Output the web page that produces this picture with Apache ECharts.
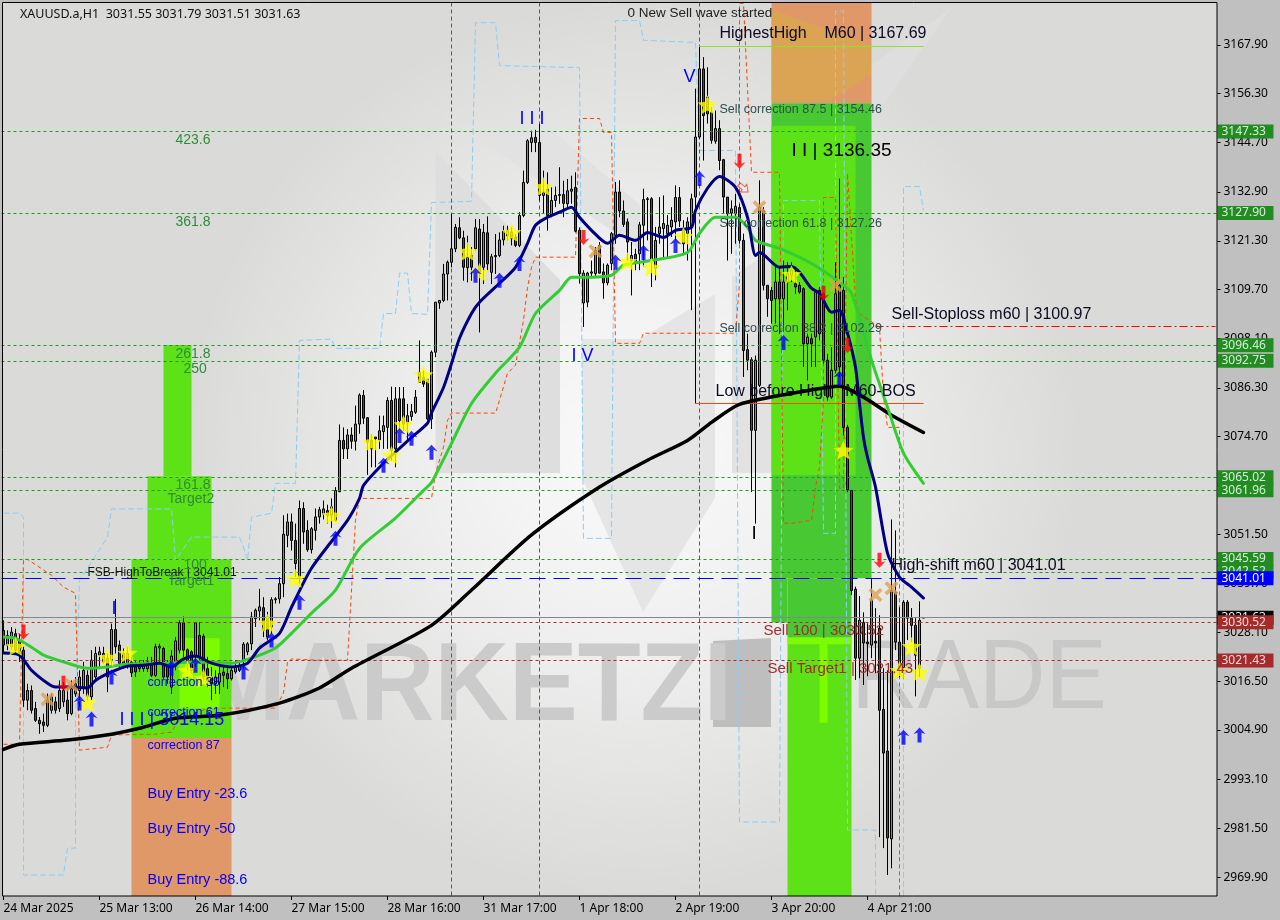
<!DOCTYPE html>
<html>
<head>
<meta charset="utf-8">
<style>html,body{margin:0;padding:0;background:#c0c0c0}#c{width:1280px;height:920px}</style>
<script src="https://cdn.jsdelivr.net/npm/echarts@6/dist/echarts.min.js"></script>
</head>
<body>
<div id="c"></div>
<script>
// ---------- values ----------
const tickLabels = ['24 Mar 2025','25 Mar 13:00','26 Mar 14:00','27 Mar 15:00','28 Mar 16:00','31 Mar 17:00','1 Apr 18:00','2 Apr 19:00','3 Apr 20:00','4 Apr 21:00'];
const priceTicks = [3167.9,3156.3,3144.7,3132.9,3121.3,3109.7,3098.1,3086.3,3074.7,3063.1,3051.5,3039.7,3028.1,3016.5,3004.9,2993.1,2981.5,2969.9];
const ohlcLast = [3031.55,3031.79,3031.51,3031.63];
// each row: open, close, low, high
const candles = [
[3028.6,3025.1,3023.1,3031.0],[3025.1,3027.4,3023.9,3028.6],[3024.7,3028.2,3023.9,3029.4],[3027.8,3023.9,3023.1,3029.0],[3026.2,3023.1,3021.1,3027.8],
[3023.9,3012.0,3010.4,3024.7],[3012.0,3014.3,3009.6,3015.9],[3014.3,3009.6,3008.8,3015.5],[3010.0,3007.2,3006.8,3011.6],[3007.2,3006.4,3004.0,3008.0],
[3006.8,3006.0,3004.4,3008.8],[3006.0,3012.0,3005.6,3013.6],[3009.6,3012.8,3008.8,3013.6],[3011.6,3009.6,3008.8,3012.8],[3010.0,3014.3,3009.2,3016.7],
[3011.6,3014.3,3010.4,3016.3],[3012.0,3008.8,3007.2,3015.1],[3008.8,3014.7,3008.4,3016.7],[3013.5,3015.9,3012.8,3017.5],[3014.3,3017.5,3010.4,3019.1],
[3015.1,3019.1,3013.5,3021.1],[3017.9,3012.8,3012.0,3019.1],[3012.8,3021.5,3012.0,3023.9],[3017.5,3023.1,3016.7,3024.7],[3022.7,3023.5,3019.9,3024.7],
[3023.1,3021.1,3020.7,3024.7],[3021.9,3017.5,3013.9,3023.1],[3021.5,3028.8,3019.9,3030.2],[3028.8,3024.7,3023.1,3036.1],[3025.1,3020.7,3019.5,3026.2],
[3023.1,3020.7,3019.5,3024.3],[3020.7,3023.1,3019.5,3024.7],[3021.1,3018.5,3017.5,3022.3],[3019.9,3018.7,3017.5,3021.5],[3020.3,3019.5,3018.7,3021.5],
[3019.5,3020.3,3018.7,3021.5],[3019.5,3021.1,3018.7,3022.3],[3020.3,3017.9,3017.5,3022.3],[3017.9,3024.7,3017.5,3025.4],[3024.4,3024.8,3021.1,3025.4],
[3024.3,3017.5,3017.1,3024.7],[3020.3,3017.5,3015.9,3021.5],[3015.1,3022.5,3013.5,3023.9],[3020.3,3026.1,3019.1,3027.0],[3023.9,3030.4,3023.1,3031.0],
[3030.4,3023.9,3022.3,3031.9],[3024.0,3020.7,3019.1,3024.3],[3023.5,3019.1,3018.3,3023.9],[3022.3,3030.4,3019.9,3030.6],[3027.4,3022.3,3021.5,3030.6],
[3027.2,3017.5,3016.7,3027.8],[3019.5,3016.7,3015.1,3022.3],[3017.5,3015.9,3012.0,3019.9],[3015.9,3017.5,3013.5,3019.1],[3016.3,3018.3,3013.5,3019.9],
[3018.7,3017.9,3015.1,3020.3],[3018.3,3017.1,3014.7,3020.3],[3017.1,3019.1,3016.7,3019.9],[3018.7,3019.9,3018.3,3021.5],[3019.1,3020.3,3018.7,3021.5],
[3021.5,3025.3,3019.5,3025.8],[3023.5,3025.4,3022.7,3025.8],[3025.4,3031.8,3023.9,3033.0],[3031.4,3033.4,3029.4,3033.8],[3033.2,3034.2,3031.0,3038.5],
[3034.0,3028.6,3027.0,3036.5],[3031.8,3027.0,3026.2,3033.0],[3029.4,3035.9,3027.8,3036.5],[3035.9,3036.1,3035.0,3036.5],[3036.1,3039.7,3035.0,3041.3],
[3039.7,3051.5,3036.5,3056.0],[3051.2,3054.4,3048.4,3056.4],[3054.4,3050.0,3047.6,3056.4],[3050.0,3044.5,3041.3,3054.0],[3041.3,3057.6,3039.7,3059.5],
[3057.6,3052.0,3049.2,3059.1],[3052.4,3047.8,3047.3,3054.8],[3047.8,3052.8,3046.9,3053.2],[3052.4,3055.6,3050.0,3057.6],[3055.6,3057.3,3054.0,3058.0],
[3056.3,3057.5,3055.0,3059.5],[3057.1,3055.9,3054.0,3058.5],[3056.0,3058.0,3053.0,3060.0],[3054.8,3061.9,3054.5,3062.7],[3061.6,3073.8,3061.5,3077.6],
[3073.8,3071.8,3069.4,3076.9],[3071.8,3075.1,3069.4,3076.5],[3075.1,3073.6,3071.8,3076.9],[3073.6,3077.7,3071.4,3082.1],[3077.7,3084.6,3075.4,3085.0],
[3084.5,3079.1,3077.7,3085.8],[3079.2,3073.4,3065.6,3079.3],[3073.8,3071.8,3067.4,3075.3],[3074.2,3074.6,3067.4,3074.6],[3073.9,3076.1,3071.8,3079.7],
[3075.9,3077.3,3071.8,3079.7],[3076.9,3083.3,3071.8,3084.1],[3083.3,3071.4,3069.0,3086.6],[3071.8,3083.7,3067.4,3086.5],[3083.7,3078.5,3076.2,3086.5],
[3083.7,3077.7,3076.2,3086.5],[3078.1,3079.7,3073.8,3082.5],[3079.5,3080.7,3078.5,3082.5],[3080.5,3084.1,3080.1,3085.8],[3090.0,3087.6,3087.6,3097.6],
[3088.8,3087.2,3086.5,3090.4],[3088.4,3078.9,3078.5,3088.4],[3078.9,3094.8,3076.5,3095.2],[3094.8,3106.7,3093.6,3106.7],[3106.5,3107.1,3105.1,3107.1],
[3107.1,3113.4,3106.7,3115.8],[3113.4,3116.2,3107.1,3116.6],[3116.2,3119.4,3115.0,3127.7],[3119.4,3124.5,3118.6,3125.3],[3124.4,3122.0,3121.7,3126.9],
[3122.0,3115.0,3111.8,3123.7],[3114.9,3117.4,3111.4,3122.5],[3117.8,3115.0,3111.8,3119.8],[3119.4,3124.4,3119.0,3126.5],[3124.1,3113.8,3099.5,3126.5],
[3115.0,3123.3,3111.0,3125.3],[3123.2,3115.8,3114.2,3127.1],[3113.8,3117.5,3111.0,3118.2],[3117.5,3117.8,3113.4,3122.9],[3117.8,3121.5,3117.4,3123.3],
[3121.5,3123.6,3120.2,3124.9],[3122.5,3123.7,3121.4,3124.9],[3123.4,3121.8,3120.2,3124.5],[3122.1,3120.2,3119.8,3122.9],[3120.2,3127.3,3119.8,3128.1],
[3127.3,3135.2,3126.9,3138.0],[3135.2,3145.1,3134.8,3145.5],[3144.7,3145.8,3142.4,3147.5],[3145.9,3144.7,3142.4,3147.7],[3144.7,3132.1,3130.9,3149.1],
[3132.1,3132.9,3127.7,3138.0],[3133.6,3127.3,3123.7,3137.6],[3127.5,3130.9,3126.9,3134.0],[3130.9,3132.1,3129.3,3134.2],[3132.1,3132.3,3130.1,3138.8],
[3132.3,3130.2,3126.9,3135.6],[3130.1,3133.2,3129.3,3136.0],[3133.1,3133.6,3130.1,3136.8],[3134.0,3123.6,3123.3,3137.6],[3123.8,3113.5,3111.1,3124.5],
[3106.5,3113.6,3100.8,3114.3],[3106.7,3113.6,3105.5,3113.9],[3113.6,3113.9,3112.7,3116.6],[3113.5,3119.0,3112.7,3119.8],[3120.2,3113.6,3113.5,3121.0],
[3113.9,3111.3,3107.5,3115.9],[3111.3,3115.5,3110.7,3115.9],[3115.9,3123.0,3114.3,3123.4],[3122.6,3132.9,3120.6,3135.3],[3132.9,3128.4,3126.9,3135.7],
[3128.4,3125.2,3124.6,3130.9],[3125.8,3121.0,3116.6,3126.6],[3116.6,3117.8,3108.3,3121.0],[3118.1,3116.3,3114.3,3119.4],[3118.2,3125.1,3114.3,3125.8],
[3125.0,3131.1,3115.1,3133.7],[3131.1,3131.3,3121.4,3131.7],[3131.3,3116.6,3110.3,3131.7],[3114.7,3121.4,3111.9,3124.6],[3123.0,3124.6,3120.6,3131.7],
[3124.2,3125.4,3117.4,3132.1],[3123.0,3125.0,3117.4,3127.4],[3124.6,3126.2,3122.2,3129.3],[3125.8,3131.6,3121.4,3134.5],[3131.6,3126.0,3124.6,3134.1],
[3120.6,3123.8,3118.2,3126.2],[3123.0,3125.8,3116.6,3126.9],[3124.6,3131.3,3104.8,3132.5],[3131.7,3146.0,3082.6,3157.5],[3146.0,3162.2,3145.6,3167.4],
[3162.2,3151.1,3140.4,3165.0],[3155.5,3151.5,3149.2,3162.6],[3151.9,3145.2,3144.4,3153.1],[3145.0,3148.0,3144.4,3152.3],[3148.0,3140.4,3138.1,3150.0],
[3140.6,3131.7,3127.7,3140.8],[3131.7,3127.7,3116.6,3131.7],[3127.9,3128.9,3118.2,3130.9],[3127.7,3129.5,3120.6,3132.5],[3129.2,3121.4,3120.6,3130.1],
[3121.4,3095.2,3088.9,3123.0],[3095.4,3092.9,3090.5,3099.2],[3093.0,3076.2,3061.5,3093.6],[3076.2,3092.9,3054.0,3094.0],[3086.9,3129.3,3086.5,3135.7],
[3128.5,3110.7,3109.5,3129.3],[3110.7,3107.5,3103.2,3110.7],[3109.5,3107.1,3101.6,3110.3],[3107.5,3111.5,3101.6,3115.1],[3111.5,3107.5,3099.2,3115.1],
[3107.5,3111.5,3100.4,3116.6],[3111.5,3113.5,3104.8,3116.2],[3113.1,3114.3,3111.5,3116.2],[3111.1,3110.3,3108.7,3115.1],[3110.7,3109.1,3108.7,3111.5],
[3109.9,3096.8,3091.3,3110.3],[3096.8,3098.4,3088.1,3099.2],[3098.0,3096.8,3091.3,3099.2],[3098.4,3109.1,3091.3,3109.5],[3109.5,3099.2,3097.6,3110.3],
[3108.7,3092.9,3092.1,3109.1],[3092.9,3084.1,3083.3,3094.4],[3084.1,3090.5,3083.7,3096.0],[3090.5,3108.7,3089.7,3116.2],[3110.7,3091.3,3088.9,3136.1],
[3109.5,3076.9,3075.0,3112.7],[3076.9,3062.0,3061.5,3077.5],[3061.9,3038.1,3037.0,3062.0],[3038.4,3022.0,3016.8,3039.0],[3022.0,3031.0,3017.2,3036.8],
[3030.5,3025.6,3015.6,3032.9],[3025.8,3025.4,3017.7,3030.3],[3025.1,3035.8,3022.0,3040.8],[3026.0,3025.6,3018.4,3033.9],[3029.1,3009.6,2979.4,3032.2],
[3009.8,2999.4,2976.8,3019.6],[2999.9,2979.2,2970.4,3019.1],[2979.0,3038.1,2972.0,3055.0],[3037.7,3025.8,3023.9,3052.4],[3025.8,3019.8,3017.5,3034.1],
[3019.8,3035.3,3017.2,3035.8],[3035.3,3031.5,3026.3,3035.8],[3031.5,3029.8,3025.8,3033.9],[3029.8,3022.7,3012.9,3031.5],[3019.6,3031.0,3017.5,3035.5],
[3031.55,3031.63,3031.51,3031.79]
];
const emaNavy = [[0,3023.2],[4,3022.7],[7,3019.1],[11,3016],[13,3015.1],[17,3015.1],[21,3014.9],[23,3016.7],[27,3018.7],[31,3020.1],[35,3020.3],[39,3020.8],[42,3019.9],[45,3021.8],[48,3022.5],[52,3020.8],[57,3019.9],[61,3020.8],[64,3024.4],[69,3027.9],[72,3034.1],[77,3043.4],[86,3054.8],[89,3060],[90,3063.1],[95,3068.4],[99,3071.9],[102,3074.5],[106,3077.9],[107,3080.3],[110,3086.4],[112,3092.1],[114,3098.1],[117,3104],[119,3106.7],[124,3111.2],[128,3115],[131,3120.7],[133,3125],[136,3126.9],[139,3128.1],[142,3129.3],[144,3126.9],[147,3123.8],[151,3120.7],[154,3122.6],[158,3121.4],[161,3123.3],[165,3122.1],[168,3123.8],[172,3124.5],[173,3128.5],[176,3133.8],[179,3136.6],[183,3134],[186,3126.9],[188,3117.8],[189,3118.5],[194,3115],[197,3115.2],[199,3113.8],[202,3110],[204,3108.8],[207,3104.3],[209,3104.8],[211,3099.3],[213,3091.2],[214,3082.6],[215,3074.5],[216,3069.8],[218,3062.7],[221,3047],[224,3041.3],[227,3038.9],[230,3036.3]];
const emaGreen = [[0,3027],[3,3026.7],[7,3024.6],[10,3022.7],[16,3020.8],[21,3019.6],[26,3019.9],[31,3020.6],[41,3020.8],[46,3021],[52,3021],[57,3020.8],[62,3022],[68,3024.4],[72,3027.9],[77,3032.7],[83,3038.2],[89,3048.1],[98,3055.3],[105,3061.9],[107,3063.8],[109,3067.4],[112,3073.1],[117,3082.6],[123,3089.8],[129,3096],[133,3104],[139,3109.5],[142,3112.6],[145,3112.6],[152,3113.1],[155,3115.5],[162,3116.6],[171,3118.5],[174,3123.1],[178,3126.9],[183,3126.9],[186,3124.5],[188,3121.4],[194,3119.5],[202,3115.9],[209,3111.4],[212,3108.8],[217,3092.9],[221,3081.7],[225,3070.8],[230,3063.6]];
const emaBlack = [[0,3000.3],[4,3001.5],[16,3002.5],[27,3003.9],[34,3005.3],[43,3007.7],[54,3008.4],[69,3011.3],[79,3014.9],[87,3019.6],[107,3029.8],[117,3038.2],[132,3051.3],[149,3062.7],[161,3069.1],[171,3073.8],[177,3078.1],[184,3082.4],[199,3085.3],[209,3086.7],[215,3084.1],[222,3079.8],[230,3075.7]];
const channelBlueA = [[0,3056.5],[4,3056.5],[5,3055.5],[5,2970.4],[15,2970.4],[16,2976.8],[18,2976.8],[18,3007.2],[19,3040.5],[26,3050.8],[27,3057.5],[42,3057.5],[43,3045.3],[47,3050.8],[59,3050.8],[60,3048.4],[61,3045.3],[62,3055.5],[67,3056.5],[68,3063.6],[73,3063.6],[74,3097.6],[82,3097.9],[83,3095.7],[94,3095.7],[95,3104],[98,3104],[99,3113.6],[101,3113.6],[102,3104],[106,3103.8],[107,3130.4],[117,3130.7],[118,3173.2],[123,3173.2],[124,3163],[144,3162.5],[145,3050.5],[152,3050.5],[153,3173.7],[159,3173.7],[160,3169],[173,3168.5],[174,3142.8],[183,3142.8],[184,2983],[194,2983],[195,3130.9],[204,3130.9],[205,3051.7],[208,3051.7],[208,3176],[210,3176],[211,2981.1],[218,2981.1],[218,2965.4]];
const channelBlueB = [[225,2965.4],[225,3134.2],[229,3134.2],[230,3128.5]];
const channelOrange = [[0,3001.5],[4,3001.5],[5,3045.5],[6,3045.5],[12,3041.7],[15,3038.9],[18,3037.4],[19,3000.1],[26,3000.8],[27,3003.7],[38,3003.9],[42,3004.4],[43,3006],[44,3007.2],[51,3010.1],[68,3010.1],[70,3013.7],[71,3021],[72,3021.8],[79,3021.5],[86,3021.5],[88,3054.8],[89,3060],[107,3060],[108,3066],[110,3072.2],[111,3078.6],[112,3080.3],[123,3080.3],[124,3083.4],[126,3089.8],[128,3091.7],[130,3102.4],[131,3110.2],[132,3115],[133,3117.4],[143,3117.4],[144,3150.4],[149,3150.4],[150,3147.1],[152,3147.1],[153,3096.9],[159,3096.9],[160,3099.3],[183,3099.3],[184,3111.2],[184,3177.8],[185,3177.8],[187,3137.6],[194,3137.6],[195,3054.1],[197,3054.1],[202,3054.8],[203,3062.7],[204,3067.4],[205,3083.4],[205,3131.6],[208,3131.6],[209,3062.4],[210,3062.4],[211,3137.3],[213,3107.1],[214,3104],[219,3100.7],[220,3084.1],[221,3076.9],[224,3076.9],[224,2965.4]];
const sessionBars = [112,134,174];
const levelsGreen = [3147.33,3127.90,3096.46,3092.75,3065.02,3061.96,3045.59,3042.52];
const levelsRed = [3030.52,3021.43];
const levelBlue = 3041.01, levelLast = 3031.63;
const stopLevel = [218,303,3100.97], lowLevel = [173,230,3082.6], highLevel = [174,230,3167.69];
const starMarks = [[3,3024.8],[21,3011.5],[26,3022.2],[31,3023.2],[46,3019.1],[50,3017.2],[66,3030.3],[73,3041],[82,3056],[92,3073.4],[97,3070.3],[100,3077.6],[105,3089.5],[116,3118.8],[119,3113.8],[127,3123.3],[135,3134.2],[156,3116.4],[162,3115],[170,3122.4],[176,3153.7],[197,3113.3],[210,3071.5],[224,3019.1],[227,3024.8],[229,3018.7]];
const upMarks = [[19,3011.3],[22,3007.5],[27,3017.5],[42,3019.6],[48,3020.3],[60,3018.7],[67,3026.3],[74,3035.3],[83,3050.5],[95,3067.9],[99,3075],[102,3074.3],[107,3071],[118,3113.1],[124,3111.9],[129,3115.9],[153,3116.2],[160,3118.5],[168,3120.2],[174,3136.1],[195,3097.1],[209,3088.6],[225,3003.2],[229,3003.7]];
const downMarks = [[5,3028.2],[15,3016],[145,3122.1],[184,3140.2],[205,3108.8],[211,3096.4],[219,3045.3]];
const crossMarks = [[11,3012.2],[17,3015.6],[148,3118.8],[189,3129.3],[208,3110.7],[218,3037],[222,3038.6]];
const hollowMarks = [[185,3133.8]];
// zones: first bar, last bar, upper price, lower price
const zonesOrange = [[32,57,3003,2965.4],[192,217,3178,3154]];
const zonesDark = [[192,217,3154,3041],[192,196,3041,3030.5],[196,212,3041,3027]];
const zonesBright = [[32,57,3045.5,3003],[36,52,3065.3,3045.5],[40,47,3096.5,3065.3],[192,213,3148.7,3065.5],[196,212,3027,2965.4]];
const zonesLime = [[44,54,3026.7,3010.1],[204,206,3026.5,3006.6],[196,212,3026.9,3025.3]];
// annotations: bar, price, text
const textsBlack = [[156,3175.4,'0 New Sell wave started']];
const textsLarge = [[179,3170.6,'HighestHigh    M60 | 3167.69'],[178,3085.5,'Low before High   M60-BOS'],[222,3103.8,'Sell-Stoploss m60 | 3100.97'],[222,3043.9,'High-shift m60 | 3041.01']];
const textsHuge = [[197,3142.8,'I I | 3136.35']];
const textsCorr = [[179,3152.6,'Sell correction 87.5 | 3154.46'],[179,3125.4,'Sell correction 61.8 | 3127.26'],[179,3100.5,'Sell correction 38.2 | 3102.29']];
const textsSmall = [[21,3042.4,'FSB-HighToBreak | 3041.01']];
const textsBrown = [[190,3028.4,'Sell 100 | 3030.52'],[191,3019.4,'Sell Target1 | 3021.43']];
const textsWave = [[129,3150.2,'I I I'],[170,3160.2,'V'],[142,3093.8,'I V'],[27,3033.6,'I'],[29,3007.2,'I I I | 3014.15']];
const textsWaveBlack = [[187,3051.5,'I']];
const textsFib = [[43,3145.2,'423.6'],[43,3125.7,'361.8'],[43,3094.3,'261.8'],[45,3090.7,'250'],[43,3063.1,'161.8'],[41,3059.8,'Target2'],[45,3044.1,'100'],[41,3040.3,'Target1']];
const textsCorrBlue = [[36,3016.3,'correction 38'],[36,3009.1,'correction 61'],[36,3001.1,'correction 87']];
const textsEntry = [[36,2989.6,'Buy Entry -23.6'],[36,2981.3,'Buy Entry -50'],[36,2969.2,'Buy Entry -88.6']];

// ---------- chart ----------
const BARS = 304;
const categories = Array.from({length:BARS},(_,i)=> i%24===0 && tickLabels[i/24] ? tickLabels[i/24] : '');
const showTick = i => i%24===0 && !!tickLabels[i/24];
const F = '"Liberation Sans", Arial, sans-serif', FA = '"Noto Sans", sans-serif';

function zoneSeries(rows,color,z){
  return {type:'custom',z,silent:true,clip:true,data:rows,encode:{x:0,y:2},
    renderItem:(p,api)=>{
      const a=api.coord([api.value(0),api.value(2)]),b=api.coord([api.value(1),api.value(3)]);
      return {type:'rect',shape:{x:a[0],y:a[1],width:b[0]-a[0],height:b[1]-a[1]},style:{fill:color}};
    }};
}
function textSeries(rows,color,size,z){
  return {type:'custom',z:z||7,silent:true,clip:false,data:rows.map(r=>[r[0],r[1]]),encode:{x:0,y:1},
    renderItem:(p,api)=>{
      const c=api.coord([api.value(0),api.value(1)]);
      return {type:'text',x:c[0],y:c[1],style:{text:rows[p.dataIndex][2],fill:color,font:size+'px '+F,textAlign:'left',textVerticalAlign:'middle'}};
    }};
}
function stepLine(rows,color,dash){
  return {type:'line',z:2,data:rows,symbol:'none',silent:true,clip:true,lineStyle:{color,width:1,type:dash}};
}
function maLine(rows,color,width){
  return {type:'line',z:5,data:rows,symbol:'none',silent:true,smooth:0.25,lineStyle:{color,width,cap:'round',join:'round'}};
}
function markSeries(rows,symbol,size,color,extra){
  return Object.assign({type:'scatter',z:6,data:rows,symbol,symbolSize:size,silent:true,itemStyle:{color}},extra||{});
}
function tag(bg,fg){
  return {show:true,position:'end',distance:0,formatter:p=>p.value.toFixed(2),color:fg,backgroundColor:bg,width:52,height:14,lineHeight:14,padding:[0,0,0,4],align:'left',fontFamily:FA,fontSize:12};
}
const hLine=(v,color,type,label)=>({yAxis:v,lineStyle:{color,type,width:1,opacity:1},label:label||{show:false}});
const seg=(r,color,type)=>[{coord:[r[0],r[2]],lineStyle:{color,type,width:1,opacity:1},label:{show:false}},{coord:[r[1],r[2]]}];

const STAR='path://M12 0l3.5 8.5 8.5.7-6.5 5.6 2 8.7-7.5-4.6-7.5 4.6 2-8.7L0 9.2l8.5-.7z';
const ARROW='path://M6 0L12 7 8 5.5 8 16 4 16 4 5.5 0 7Z';
const CROSS='path://M2.5 0L7 4 11.5 0 14 2.5 9.5 7 14 11.5 11.5 14 7 10 2.5 14 0 11.5 4.5 7 0 2.5Z';
const HOLLOW='path://M0 3H6V0L12 5 6 10V7H0Z';
const poly=(pts,fill,z)=>({type:'polygon',z:z===undefined?-19:z,silent:true,shape:{points:pts},style:{fill}});

const option={
  animation:false,backgroundColor:'#c0c0c0',
  title:{text:'XAUUSD.a,H1  '+ohlcLast.join(' '),left:15,top:3,textStyle:{fontFamily:FA,fontSize:12.5,fontWeight:'normal',color:'#111'}},
  grid:{left:1.5,top:2.5,width:1216,height:893.5,containLabel:false},
  xAxis:{type:'category',data:categories,boundaryGap:true,
    axisLine:{show:false},splitLine:{show:false},
    axisTick:{show:true,alignWithLabel:true,length:4,interval:i=>showTick(i),lineStyle:{color:'#000'}},
    axisLabel:{show:true,interval:i=>showTick(i),align:'left',margin:7,color:'#000',fontFamily:FA,fontSize:12}},
  yAxis:{type:'value',position:'right',min:2965.4,max:3178,scale:true,
    axisLine:{show:false},splitLine:{show:false},
    axisTick:{show:true,length:3,lineStyle:{color:'#000'},customValues:priceTicks},
    axisLabel:{show:true,margin:6,color:'#000',fontFamily:FA,fontSize:12,customValues:priceTicks,formatter:v=>v.toFixed(2)}},
  graphic:[
    {type:'rect',z:-20,silent:true,shape:{x:2.5,y:2.5,width:1214.5,height:893.5},style:{fill:{type:'radial',x:0.52,y:0.5,r:0.5,colorStops:[{offset:0,color:'#fbfbfb'},{offset:0.45,color:'#efefef'},{offset:1,color:'#dadad8'}]}}},
    poly([[435.5,151],[560,280],[560,473],[435.5,473]],'#dedede'),
    poly([[458,124],[545,124],[640,205],[640,250],[560,195]],'#e2e2e2'),
    poly([[582,339],[640,339],[715,294],[715,498],[643,612],[582,478]],'#e5e5e5'),
    poly([[732,277],[771,250],[771,473],[732,473]],'#e2e2e2'),
    poly([[771,165],[871,65],[951,8],[880,110],[871,118],[771,230]],'#dedede'),
    poly([[713,641],[771,638],[771,727],[713,727]],'#bebebe'),
    {type:'text',z:-18,silent:true,x:200,y:633,scaleY:1.12,scaleX:1.03,style:{text:'MARKETZI',fill:'#cbcbcb',font:'bold 100px '+F}},
    {type:'text',z:-18,silent:true,x:795,y:632,scaleY:1.06,style:{text:'TRADE',fill:'#c8c8c8',font:'92px '+F}},
    poly([[771,9],[871,45],[871,75],[830,101],[771,101]],'rgba(210,180,60,0.45)',1.5),
    {type:'rect',z:20,silent:true,shape:{x:2.5,y:2.5,width:1214.5,height:893.5},style:{fill:'none',stroke:'#000',lineWidth:1}}
  ],
  series:[
    zoneSeries(zonesOrange,'#e09868',1),
    zoneSeries(zonesDark,'#48c832',1),
    zoneSeries(zonesBright,'#5de217',1),
    zoneSeries(zonesLime,'#7cfc00',1),
    {type:'line',z:3,data:[],symbol:'none',silent:true,
      markLine:{silent:true,symbol:'none',animation:false,precision:2,
        lineStyle:{opacity:1},
        data:[
          ...levelsGreen.map(v=>hLine(v,'#1f9a1f',[3,3],tag('#228b22','#d8f0d8'))),
          hLine(levelLast,'#808890','solid',tag('#000','#eee')),
          ...levelsRed.map(v=>hLine(v,'#b02a2a',[3,3],tag('#a52a2a','#f4dada'))),
          hLine(levelBlue,'#0000ff',[16,8],tag('#0000ff','#fff')),
          seg(stopLevel,'#ff0000',[8,3,2,3]),
          seg(lowLevel,'#ff4500','solid'),
          seg(highLevel,'#8fe02a','solid')
        ]}},
    {type:'custom',z:3,silent:true,clip:true,data:sessionBars.map(b=>[b]),encode:{x:0},
      renderItem:(p,api)=>{
        const x=api.coord([api.value(0),3000])[0],cs=p.coordSys;
        return {type:'line',shape:{x1:x,y1:cs.y,x2:x,y2:cs.y+cs.height},style:{stroke:'#d0148c',lineWidth:1,lineDash:[4,3]}};
      }},
    stepLine(channelBlueA,'#87cefa',[6,3]),
    stepLine(channelBlueB,'#87cefa',[6,3]),
    stepLine(channelOrange,'#ff4500',[4,3]),
    {type:'candlestick',z:4,silent:true,barWidth:3,data:candles,
      itemStyle:{color:'#3cb371',color0:'#a52a2a',borderColor:'#000',borderColor0:'#000',borderWidth:1}},
    maLine(emaBlack,'#000',3.5),
    maLine(emaGreen,'#32cd32',3),
    maLine(emaNavy,'#000080',3),
    markSeries(starMarks,STAR,[20,19],'#ffff00'),
    markSeries(upMarks,ARROW,[12,15],'#0000ff'),
    markSeries(downMarks,ARROW,[12,15],'#ff0000',{symbolRotate:180}),
    markSeries(crossMarks,CROSS,[14,14],'#dea050'),
    markSeries(hollowMarks,HOLLOW,[12,10],'#fff0e0',{itemStyle:{color:'rgba(255,255,255,0.4)',borderColor:'#ff3020',borderWidth:1},symbolRotate:-40}),
    textSeries(textsBlack,'#222',13.5),
    textSeries(textsSmall,'#111',12),
    textSeries(textsLarge,'#0a0a20',16),
    textSeries(textsHuge,'#000',19),
    textSeries(textsCorr,'#2f4f4f',12.5),
    textSeries(textsBrown,'#a52a2a',15),
    textSeries(textsWave,'#0000ff',18),
    textSeries(textsWaveBlack,'#000',19),
    textSeries(textsFib,'#2e8b3a',14),
    textSeries(textsCorrBlue,'#0000ff',12.5),
    textSeries(textsEntry,'#0000ff',14.5)
  ]
};
const chart=echarts.init(document.getElementById('c'),null,{renderer:'canvas',width:1280,height:920});
chart.setOption(option);
</script>
</body>
</html>
